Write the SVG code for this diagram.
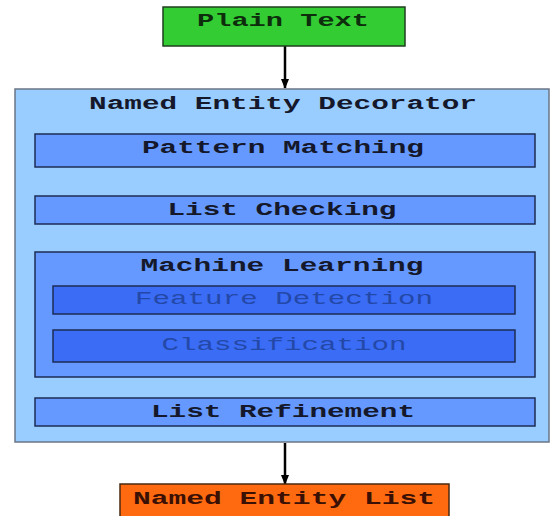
<svg xmlns="http://www.w3.org/2000/svg" width="550" height="516" viewBox="0 0 550 516">
<style>
  text { font-family: "Liberation Mono", "Courier New", monospace; font-size: 19px; text-anchor: middle; }
  .b { font-weight: bold; fill: #14182a; }
  .lt { fill: #2448a8; }
  .box { stroke: #1d2d55; stroke-width: 1.5; }
  .mid { fill: #6699ff; }
  .deep { fill: #3a6cf5; }
  .conn { stroke: #000; stroke-width: 2.5; fill: none; }
</style>
<defs>
  <marker id="arr" markerWidth="10" markerHeight="8" refX="9" refY="4" orient="auto" markerUnits="userSpaceOnUse">
    <path d="M0,0 L10,4 L0,8 Z" fill="#000"/>
  </marker>
</defs>
<rect width="550" height="516" fill="#fff"/>

<g id="connectors">
  <line class="conn" x1="285" y1="46" x2="285" y2="88" marker-end="url(#arr)"/>
  <line class="conn" x1="285" y1="443" x2="285" y2="484" marker-end="url(#arr)"/>
</g>

<g id="plain-text">
  <rect x="163" y="7" width="242" height="39" fill="#33cc33" stroke="#1f3f1f" stroke-width="1.5"/>
  <text class="b" x="283" y="26" textLength="172" lengthAdjust="spacingAndGlyphs" style="fill:#0d2d0d">Plain Text</text>
</g>

<g id="named-entity-decorator">
  <rect x="15" y="89" width="534" height="353" fill="#99ccff" stroke="#6a7585" stroke-width="1.5"/>
  <text class="b" x="283" y="109" textLength="388" lengthAdjust="spacingAndGlyphs">Named Entity Decorator</text>
</g>

<g id="pattern-matching">
  <rect class="box mid" x="35" y="134" width="500" height="33"/>
  <text class="b" x="283" y="153" textLength="282" lengthAdjust="spacingAndGlyphs">Pattern Matching</text>
</g>

<g id="list-checking">
  <rect class="box mid" x="35" y="196" width="500" height="28"/>
  <text class="b" x="282" y="215" textLength="229" lengthAdjust="spacingAndGlyphs">List Checking</text>
</g>

<g id="machine-learning">
  <rect class="box mid" x="35" y="252" width="500" height="125"/>
  <text class="b" x="282" y="271" textLength="283" lengthAdjust="spacingAndGlyphs">Machine Learning</text>
</g>

<g id="feature-detection">
  <rect class="box deep" x="53" y="286" width="462" height="28"/>
  <text class="lt" x="284" y="304" textLength="298" lengthAdjust="spacingAndGlyphs">Feature Detection</text>
</g>

<g id="classification">
  <rect class="box deep" x="53" y="330" width="462" height="32"/>
  <text class="lt" x="284" y="350" textLength="245" lengthAdjust="spacingAndGlyphs">Classification</text>
</g>

<g id="list-refinement">
  <rect class="box mid" x="35" y="398" width="500" height="28"/>
  <text class="b" x="283" y="417" textLength="264" lengthAdjust="spacingAndGlyphs">List Refinement</text>
</g>

<g id="named-entity-list">
  <rect x="120" y="484" width="329" height="40" fill="#ff6a10" stroke="#4a2a10" stroke-width="1.5"/>
  <text class="b" x="284" y="504" textLength="302" lengthAdjust="spacingAndGlyphs" style="fill:#3a1005">Named Entity List</text>
</g>
</svg>
